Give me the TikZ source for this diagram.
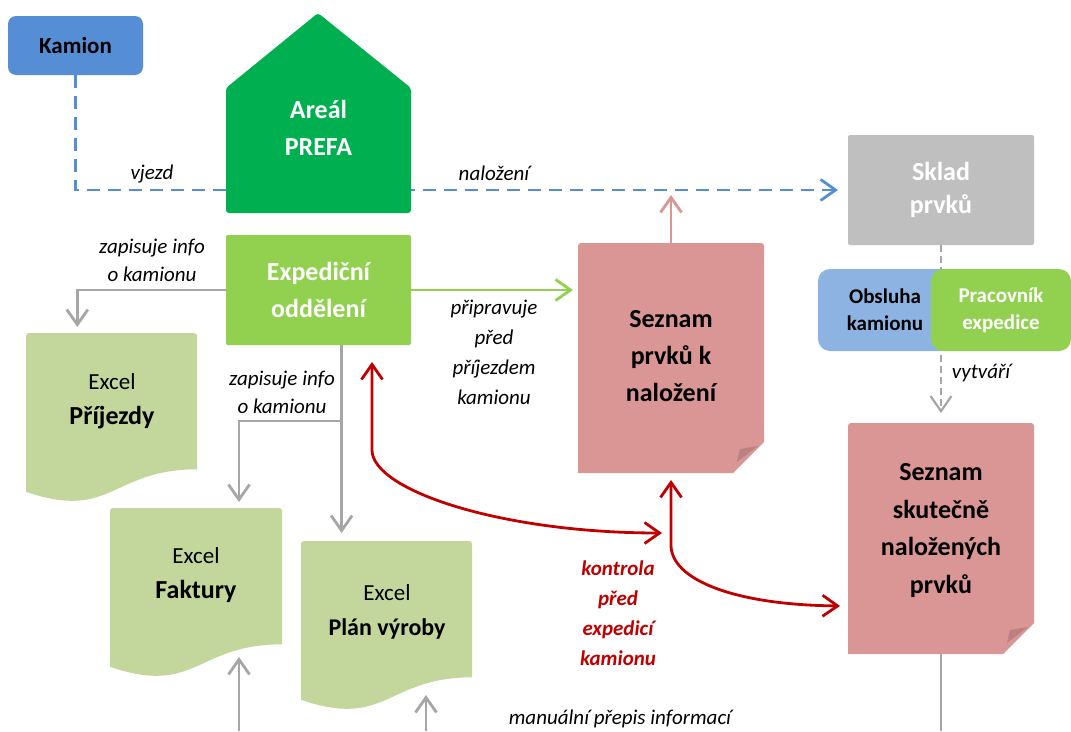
\documentclass[tikz,border=0pt]{standalone}
\usepackage{fontspec}
\setmainfont{Carlito}
\usetikzlibrary{arrows.meta,backgrounds,calc}
\definecolor{kblue}{HTML}{558ED5}
\definecolor{hgreen}{HTML}{00B050}
\definecolor{lgreen}{HTML}{92D050}
\definecolor{sgray}{HTML}{BFBFBF}
\definecolor{pinkf}{HTML}{D99694}
\definecolor{pinkd}{HTML}{B98180}
\definecolor{exg}{HTML}{C3D69B}
\definecolor{obsb}{HTML}{8DB3E2}
\definecolor{lgray}{HTML}{A6A6A6}
\definecolor{dred}{HTML}{C00000}
\definecolor{pinkline}{HTML}{D99694}
\tikzset{
  barb/.tip={Straight Barb[length=15pt,width=21pt]},
  conn/.style={line width=2.8pt},
  tipend/.style={-barb},
  bluedash/.style={conn,kblue,dash pattern=on 13pt off 8pt},
  graydash/.style={line width=2.2pt,lgray,dash pattern=on 7pt off 4pt},
  grayline/.style={conn,lgray},
  redline/.style={conn,dred},
  box/.style={inner sep=0pt,outer sep=0pt,align=center},
  bigtext/.style={font=\fontsize{26}{37}\selectfont\bfseries},
  midtext/.style={font=\fontsize{21}{27}\selectfont\bfseries},
  lbl/.style={inner sep=0pt,align=center,font=\fontsize{21}{28}\selectfont\itshape},
  redlbl/.style={inner sep=0pt,align=center,text=dred,font=\fontsize{21}{30}\selectfont\bfseries\itshape},
  doctext/.style={inner sep=0pt,align=center,font=\fontsize{23}{35}\selectfont},
}
\newcommand\docfill[3]{% left x, top y, right x
  \fill[exg] ({#1},{#2+158.8}) -- ({#1},{#2+3}) arc[start angle=180,end angle=90,radius=3pt] -- ({#3-3},{#2}) arc[start angle=90,end angle=0,radius=3pt] -- ({#3},{#2+136.3})
    .. controls ({(#1+#3)/2},{#2+136.3}) and ({(#1+#3)/2},{#2+188.2}) .. ({#1},{#2+158.8}) -- cycle;}
\newcommand\notefill[4]{% left, top, right, bottom
  \fill[pinkf] ({#1},{#4}) -- ({#1},{#2+3}) arc[start angle=180,end angle=90,radius=3pt] -- ({#3-3},{#2}) arc[start angle=90,end angle=0,radius=3pt] -- ({#3},{#4-31}) -- ({#3-31},{#4}) -- cycle;
  \fill[pinkd] ({#3-27},{#4-11}) -- ({#3-24},{#4-24}) -- ({#3-6},{#4-27}) -- cycle;}
\begin{document}
\begin{tikzpicture}[x=1pt,y=-1pt]
\useasboundingbox (0,0) rectangle (1071,731);

% Kamion
\node[box,fill=kblue,rounded corners=8pt,minimum width=135pt,minimum height=59pt,
      font=\fontsize{23}{28}\selectfont\bfseries] (kamion) at (75.5,45.5) {Kamion};

% Areal PREFA (house)
\node[box,minimum width=185pt,minimum height=200pt] (areal) at (318.5,113) {};
\fill[hgreen,rounded corners=3pt] (226,213) -- (226,88) -- (318,13) -- (411,88) -- (411,213) -- cycle;
\node[box,bigtext,text=white] (arealT) at (318.5,128) {Areál\\PREFA};

% Sklad
\node[box,fill=sgray,rounded corners=2pt,minimum width=186pt,minimum height=110pt,
      bigtext,text=white,font=\fontsize{26}{33}\selectfont\bfseries] (sklad) at (941,190) {Sklad\\prvků};

% Expedicni oddeleni
\node[box,fill=lgreen,rounded corners=2pt,minimum width=185pt,minimum height=110pt,
      bigtext,text=white] (exped) at (318.5,290) {Expediční\\oddělení};

% Obsluha / Pracovnik
\node[box,fill=obsb,rounded corners=12pt,minimum width=134pt,minimum height=82pt,
      midtext] (obs) at (885,310) {Obsluha\\kamionu};
\node[box,fill=lgreen,rounded corners=12pt,minimum width=140pt,minimum height=82pt,
      midtext,text=white] (prac) at (1001,310) {Pracovník\\expedice};

% Seznam prvku k nalozeni
\node[box,minimum width=186pt,minimum height=230pt] (seznam1) at (671,358) {};
\notefill{578}{243}{764}{473}
\node[box,bigtext] (seznam1T) at (671,356.5) {Seznam\\prvků k\\naložení};

% Seznam skutecne nalozenych prvku
\node[box,minimum width=186pt,minimum height=231pt] (seznam2) at (941,538.5) {};
\notefill{848}{423}{1034}{654}
\node[box,bigtext,font=\fontsize{26}{37.7}\selectfont\bfseries] (seznam2T) at (941,530.5) {Seznam\\skutečně\\naložených\\prvků};

% Excel documents
\node[box,minimum width=171pt,minimum height=170pt] (prij) at (111.5,418) {};
\docfill{26}{333}{197}
\node[doctext] (prijT) at (112,401) {Excel\\\textbf{\fontsize{26}{35}\selectfont Příjezdy}};

\node[box,minimum width=172pt,minimum height=170pt] (fakt) at (196,593) {};
\docfill{110}{508}{282}
\node[doctext] (faktT) at (196,575.5) {Excel\\\textbf{\fontsize{26}{35}\selectfont Faktury}};

\node[box,minimum width=171pt,minimum height=170pt] (plan) at (386.5,626) {};
\docfill{301}{541}{472}
\node[doctext] (planT) at (387,611.5) {Excel\\\textbf{\fontsize{24}{35}\selectfont Plán výroby}};

% labels
\node[lbl] (lvjezd) at (152,174) {vjezd};
\node[lbl] (lnaloz) at (494,173) {naložení};
\node[lbl] (lzap1) at (152,260) {zapisuje info\\o kamionu};
\node[lbl] (lzap2) at (282,392) {zapisuje info\\o kamionu};
\node[lbl,font=\fontsize{21}{30}\selectfont\itshape] (lprip) at (494,352.5) {připravuje\\před\\příjezdem\\kamionu};
\node[lbl] (lvytv) at (981,373) {vytváří};
\node[lbl] (lmanu) at (620,719) {manuální přepis informací};
\node[redlbl] (lkontr) at (618,613.5) {kontrola\\před\\expedicí\\kamionu};

% free-end coordinates
\coordinate (ebot) at ($(exped.south west)!0.625!(exped.south east)$);
\coordinate (br) at ($(ebot)+(0,76)$);
\coordinate (fbot) at (239,731);
\coordinate (ftip) at (239,657);
\coordinate (pbot) at (426,731);
\coordinate (ptip) at (426,695);
\coordinate (s2out) at (941,731);
\coordinate (r1a) at (372,362);
\coordinate (r1m) at (372,450);
\coordinate (r1b) at (662,533);
\coordinate (r2m) at (671,545);
\coordinate (r2b) at ([yshift=-67.5pt]seznam2.west);

\begin{scope}[on background layer]
\fill[white] (0,0) rectangle (1071,731);
\draw[bluedash,tipend,shorten >=10pt] (kamion.south) |- (sklad.west);
\draw[conn,pinkline,tipend] (seznam1.north) -- ++(0,-48);
\draw[conn,lgreen,tipend,shorten >=5pt] (exped.east) -- (exped.east -| seznam1.west);
\draw[grayline,tipend,shorten >=6pt] (exped.west) -| ($(prij.north west)!0.3!(prij.north east)$);
\draw[grayline,tipend,shorten >=8pt] (ebot) -- (ebot |- plan.north);
\draw[grayline,tipend,shorten >=6pt] (br) -| ($(fakt.north west)!0.75!(fakt.north east)$);
\draw[grayline,tipend] (fbot) -- (ftip);
\draw[grayline,tipend] (pbot) -- (ptip);
\draw[graydash,-{Straight Barb[length=15pt,width=21pt]},shorten >=10pt] (sklad.south) -- (seznam2.north);
\draw[grayline] (seznam2.south) -- (s2out);
\draw[redline,barb-barb] (r1a) -- (r1m) .. controls (372,490) and (500,533) .. (r1b);
\draw[redline,barb-barb,shorten <=7pt,shorten >=8pt] (seznam1.south) -- (r2m) .. controls (671,580) and (735,605) .. (r2b);
\end{scope}
\end{tikzpicture}
\end{document}
